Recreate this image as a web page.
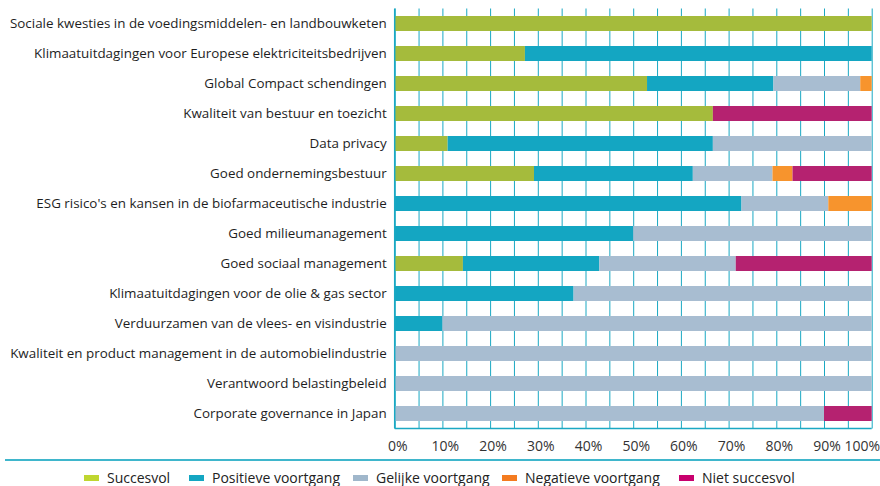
<!DOCTYPE html>
<html>
<head>
<meta charset="utf-8">
<script src="https://cdn.jsdelivr.net/npm/d3@7"></script>
<style>
  body { margin: 0; background: #fff; }
  svg { display: block; font-family: "Open Sans", sans-serif; }
  .label { font-size: 13.4px; fill: #1e1e1e; }
  .tick-label { font-size: 14px; fill: #333; }
  .legend-label { font-size: 14px; fill: #222; }
</style>
</head>
<body>
<div id="chart"></div>
<script>
const categories = [
  "Sociale kwesties in de voedingsmiddelen- en landbouwketen",
  "Klimaatuitdagingen voor Europese elektriciteitsbedrijven",
  "Global Compact schendingen",
  "Kwaliteit van bestuur en toezicht",
  "Data privacy",
  "Goed ondernemingsbestuur",
  "ESG risico's en kansen in de biofarmaceutische industrie",
  "Goed milieumanagement",
  "Goed sociaal management",
  "Klimaatuitdagingen voor de olie & gas sector",
  "Verduurzamen van de vlees- en visindustrie",
  "Kwaliteit en product management in de automobielindustrie",
  "Verantwoord belastingbeleid",
  "Corporate governance in Japan",
];

const seriesNames = [
  "Succesvol",
  "Positieve voortgang",
  "Gelijke voortgang",
  "Negatieve voortgang",
  "Niet succesvol",
];

// percentages per category, in series order
const succesvol = [100, 27.3, 52.9, 66.7, 11.1, 29.2, 0, 0, 14.3, 0, 0, 0, 0, 0];
const positief = [0, 72.7, 26.5, 0, 55.6, 33.3, 72.7, 50, 28.6, 37.5, 10, 0, 0, 0];
const gelijk = [0, 0, 18.2, 0, 33.3, 16.7, 18.2, 50, 28.6, 62.5, 90, 100, 100, 90];
const negatief = [0, 0, 2.4, 0, 0, 4.2, 9.1, 0, 0, 0, 0, 0, 0, 0];
const nietSuccesvol = [0, 0, 0, 33.3, 0, 16.6, 0, 0, 28.5, 0, 0, 0, 0, 10];

const xTicks = [0, 10, 20, 30, 40, 50, 60, 70, 80, 90, 100];
const gridTicks = d3.range(0, 101, 5);

const barColors = ["#a5bb3c", "#14a6c2", "#a8bdd1", "#f7942d", "#b52270"];
const legendColors = ["#bfd630", "#14a6c2", "#a0b7cb", "#f47b20", "#c8006e"];

const width = 880;
const height = 486;
const margin = { top: 8.5, right: 8.3, bottom: 57.5, left: 394.7 };

const rows = categories.map((c, i) => ({
  category: c,
  values: [succesvol[i], positief[i], gelijk[i], negatief[i], nietSuccesvol[i]],
}));

const stacked = d3
  .stack()
  .keys(d3.range(seriesNames.length))
  .value((d, k) => d.values[k])(rows);

const x = d3
  .scaleLinear()
  .domain([0, 100])
  .range([margin.left, width - margin.right]);

const y = d3
  .scaleBand()
  .domain(categories)
  .range([margin.top, height - margin.bottom])
  .paddingInner(0.5)
  .paddingOuter(0.25);

const svg = d3
  .select("#chart")
  .append("svg")
  .attr("width", width)
  .attr("height", height);

// vertical grid
svg
  .append("g")
  .attr("transform", `translate(0,${height - margin.bottom})`)
  .call(
    d3
      .axisBottom(x)
      .tickValues(gridTicks)
      .tickSize(-(height - margin.bottom - margin.top))
      .tickFormat("")
  )
  .call((g) => g.select(".domain").remove())
  .call((g) => g.selectAll(".tick line").attr("stroke", "#1aa8c3").attr("stroke-width", 1));

// bars
svg
  .append("g")
  .selectAll("g")
  .data(stacked)
  .join("g")
  .attr("fill", (d) => barColors[d.key])
  .selectAll("rect")
  .data((d) => d.filter((s) => s[1] - s[0] > 0))
  .join("rect")
  .attr("x", (d) => x(d[0]))
  .attr("width", (d) => x(d[1]) - x(d[0]))
  .attr("y", (d) => y(d.data.category))
  .attr("height", y.bandwidth());

// axis lines
svg
  .append("line")
  .attr("x1", x(0))
  .attr("x2", x(0))
  .attr("y1", margin.top)
  .attr("y2", height - margin.bottom)
  .attr("stroke", "#1aa8c3")
  .attr("stroke-width", 1.5);

svg
  .append("line")
  .attr("x1", x(0))
  .attr("x2", x(100))
  .attr("y1", height - margin.bottom)
  .attr("y2", height - margin.bottom)
  .attr("stroke", "#1aa8c3")
  .attr("stroke-width", 1.5);

// category labels
svg
  .append("g")
  .selectAll("text")
  .data(categories)
  .join("text")
  .attr("class", "label")
  .attr("x", margin.left - 8)
  .attr("y", (d) => y(d) + y.bandwidth() / 2)
  .attr("dy", "0.35em")
  .attr("text-anchor", "end")
  .text((d) => d);

// tick labels
svg
  .append("g")
  .selectAll("text")
  .data(xTicks)
  .join("text")
  .attr("class", "tick-label")
  .attr("x", (d) => (d === 100 ? width : x(d) + 3))
  .attr("y", height - margin.bottom + 18)
  .attr("dy", "0.35em")
  .attr("text-anchor", (d) => (d === 100 ? "end" : "middle"))
  .text((d) => d + "%");

// rule above legend
svg
  .append("line")
  .attr("x1", 5)
  .attr("x2", width)
  .attr("y1", 460)
  .attr("y2", 460)
  .attr("stroke", "#3fb6cc")
  .attr("stroke-width", 2);

// legend
const legendX = [84, 189, 353, 502, 679];
const legend = svg
  .append("g")
  .selectAll("g")
  .data(seriesNames)
  .join("g")
  .attr("transform", (d, i) => `translate(${legendX[i]},478)`);

legend
  .append("rect")
  .attr("y", -3)
  .attr("width", 15)
  .attr("height", 6)
  .attr("fill", (d, i) => legendColors[i]);

legend
  .append("text")
  .attr("class", "legend-label")
  .attr("x", 23)
  .attr("dy", "0.35em")
  .text((d) => d);
</script>
</body>
</html>
